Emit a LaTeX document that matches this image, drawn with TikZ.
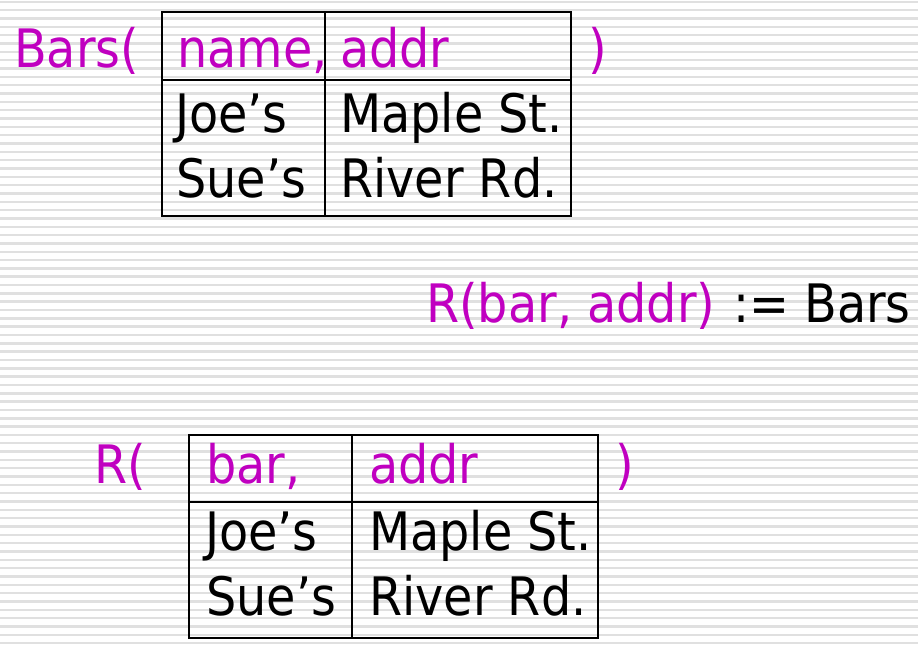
\documentclass[tikz,border=0pt]{standalone}
\usepackage{fontspec}
\setmainfont{DejaVu Sans Condensed}
\definecolor{mag}{RGB}{192,0,192}
\tikzset{
  txt/.style={anchor=base west, inner sep=0pt, font=\fontsize{39.75}{48}\selectfont},
  mtxt/.style={txt, text=mag},
  rule/.style={line width=1.5pt, black},
  stripe/.style={line width=1.8pt, black!12},
}
\begin{document}
\begin{tikzpicture}[x=0.75pt,y=-0.75pt]
\fill[white] (0,0) rectangle (918,646);
\useasboundingbox (0,0) rectangle (918,646);
\foreach \k in {0,...,77} \draw[stripe] (0,{1.8+\k*8.33}) -- (918,{1.8+\k*8.33});
% top table
\node[mtxt] (bars) at (14,67) {Bars(};
\node[mtxt] (name) at (177,67) {name,};
\node[mtxt] (addr1) at (340,67) {addr};
\node[mtxt] (rp1) at (588,67) {)};
\node[txt] (joe1) at (175,132) {Joe’s};
\node[txt] (maple1) at (340,132) {Maple St.};
\node[txt] (sue1) at (176,197) {Sue’s};
\node[txt] (river1) at (340,197) {River Rd.};
\draw[rule] (162,12) rectangle (571,216);
\draw[rule] (325,12) -- (325,216);
\draw[rule] (162,80) -- (571,80);
% middle
\node[mtxt] (rdef) at (426,322) {R(bar, addr)};
\node[txt] (assign) at (733,322) {:= Bars};
% bottom table
\node[mtxt] (r) at (94,483) {R(};
\node[mtxt] (bar) at (206,483) {bar,};
\node[mtxt] (addr2) at (369,483) {addr};
\node[mtxt] (rp2) at (615,483) {)};
\node[txt] (joe2) at (205,550) {Joe’s};
\node[txt] (maple2) at (369,550) {Maple St.};
\node[txt] (sue2) at (206,615) {Sue’s};
\node[txt] (river2) at (369,615) {River Rd.};
\draw[rule] (189,435) rectangle (598,638);
\draw[rule] (352,435) -- (352,638);
\draw[rule] (189,502) -- (598,502);
\end{tikzpicture}
\end{document}
